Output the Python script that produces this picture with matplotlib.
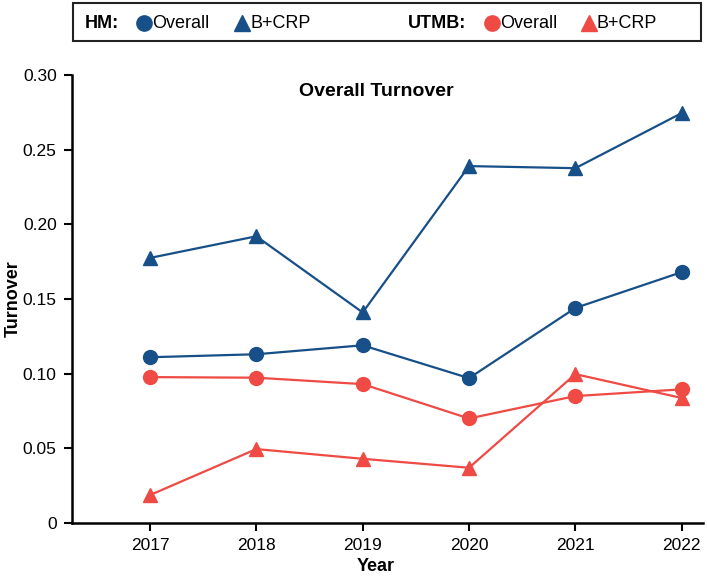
import matplotlib
matplotlib.use("Agg")
import matplotlib.pyplot as plt
from matplotlib.lines import Line2D
from matplotlib.patches import Rectangle

plt.rcParams['font.family'] = ['Liberation Sans', 'DejaVu Sans']

# data
years = [2017, 2018, 2019, 2020, 2021, 2022]
hm_overall = [0.111, 0.113, 0.119, 0.097, 0.144, 0.168]
hm_bcrp = [0.1775, 0.192, 0.141, 0.239, 0.2376, 0.2745]
utmb_overall = [0.0977, 0.0973, 0.093, 0.070, 0.085, 0.0895]
utmb_bcrp = [0.0187, 0.0495, 0.043, 0.037, 0.0997, 0.0837]
yticks = [0, 0.05, 0.10, 0.15, 0.20, 0.25, 0.30]
ytick_labels = ["0", "0.05", "0.10", "0.15", "0.20", "0.25", "0.30"]

blue = "#174f88"
red = "#ef4a43"

W, H = 707, 576
fig = plt.figure(figsize=(W / 100, H / 100), dpi=100)
ax = fig.add_axes([72 / W, 1 - 523 / H, 631 / W, 448 / H])

ax.plot(years, hm_bcrp, color=blue, marker="^", ms=10, lw=1.6, clip_on=False)
ax.plot(years, hm_overall, color=blue, marker="o", ms=10, lw=1.6, clip_on=False)
ax.plot(years, utmb_overall, color=red, marker="o", ms=10, lw=1.6, clip_on=False)
ax.plot(years, utmb_bcrp, color=red, marker="^", ms=10, lw=1.6, clip_on=False)

ax.set_xlim(2016.267, 2022.2)
ax.set_ylim(0, 0.30)
ax.set_xticks(years)
ax.set_yticks(yticks)
ax.set_yticklabels(ytick_labels)
ax.tick_params(labelsize=12.5, length=6, width=1.5, direction="out", pad=5)
for s in ["top", "right"]:
    ax.spines[s].set_visible(False)
for s in ["left", "bottom"]:
    ax.spines[s].set_linewidth(1.8)

ax.set_xlabel("Year", fontsize=13, fontweight="bold")
ax.xaxis.set_label_coords((376 - 72) / 631, -(558 - 523) / 448)
ax.set_ylabel("Turnover", fontsize=13, fontweight="bold")
ax.yaxis.set_label_coords(-(72 - 22) / 631, 0.5)
ax.text((376 - 72) / 631, (523 - 92) / 448, "Overall Turnover", transform=ax.transAxes,
        ha="center", va="center", fontsize=14, fontweight="bold")

# legend box on top
def fx(x):
    return x / W

def fy(y):
    return 1 - y / H

fig.add_artist(Rectangle((fx(73), fy(41)), fx(701) - fx(73), fy(3) - fy(41),
                         transform=fig.transFigure, fill=False, ec="#222222", lw=1.5))
ly = fy(23)
fig.text(fx(85), ly, "HM:", fontsize=13, fontweight="bold", va="center")
fig.add_artist(Line2D([fx(144)], [ly], marker="o", ms=11, color=blue, transform=fig.transFigure))
fig.text(fx(152), ly, "Overall", fontsize=13, va="center")
fig.add_artist(Line2D([fx(242)], [ly], marker="^", ms=11, color=blue, transform=fig.transFigure))
fig.text(fx(250), ly, "B+CRP", fontsize=13, va="center")
fig.text(fx(408), ly, "UTMB:", fontsize=13, fontweight="bold", va="center")
fig.add_artist(Line2D([fx(492)], [ly], marker="o", ms=11, color=red, transform=fig.transFigure))
fig.text(fx(500), ly, "Overall", fontsize=13, va="center")
fig.add_artist(Line2D([fx(589)], [ly], marker="^", ms=11, color=red, transform=fig.transFigure))
fig.text(fx(597), ly, "B+CRP", fontsize=13, va="center")

fig.savefig("out.png", dpi=100)
